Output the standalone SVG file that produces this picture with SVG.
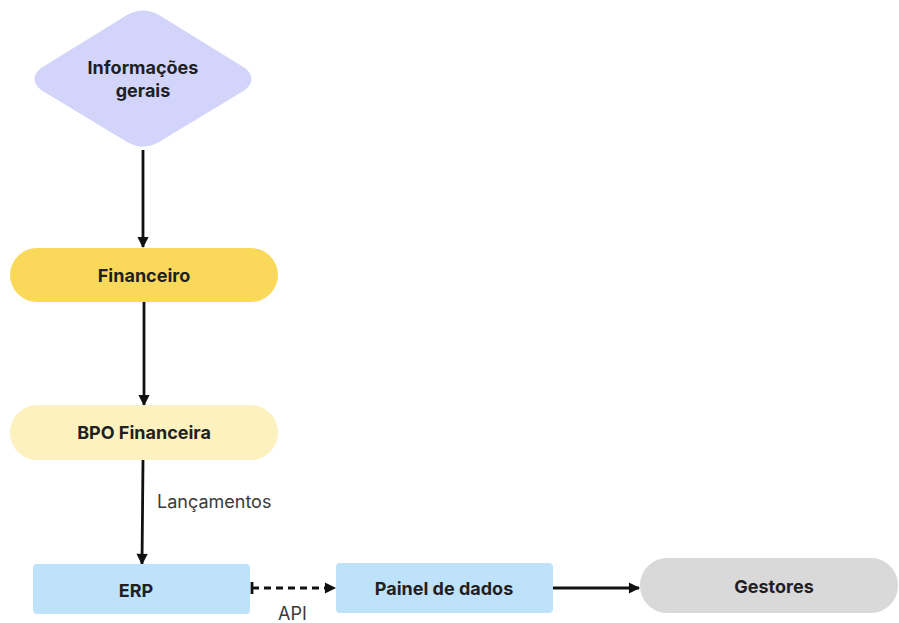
<svg xmlns="http://www.w3.org/2000/svg" width="899" height="623" viewBox="0 0 899 623">
<defs>
<marker id="arr" viewBox="0 0 10 10" refX="9" refY="5" markerWidth="4.4" markerHeight="4" orient="auto" markerUnits="strokeWidth">
<path d="M0,0 L10,5 L0,10 Z" fill="#111"/>
</marker>
</defs>
<style>
.lbl{font-family:Inter,"Liberation Sans",sans-serif;font-weight:700;font-size:18px;fill:#1f1f24;text-anchor:middle}
.edge{font-family:Inter,"Liberation Sans",sans-serif;font-weight:400;font-size:18px;fill:#3a3a3a}
.ln{stroke:#111;stroke-width:2.8;fill:none}
</style>
<rect width="899" height="623" fill="#ffffff"/>
<g id="connectors">
<line class="ln" x1="143" y1="150" x2="143" y2="247" marker-end="url(#arr)"/>
<line class="ln" x1="144" y1="302" x2="144" y2="405" marker-end="url(#arr)"/>
<line class="ln" x1="143" y1="460" x2="142" y2="564" marker-end="url(#arr)"/>
<text class="edge" x="157" y="508">Lançamentos</text>
<line class="ln" x1="252" y1="588" x2="335" y2="588" stroke-dasharray="7,5" marker-end="url(#arr)"/>
<line class="ln" x1="252" y1="582" x2="252" y2="594"/>
<text class="edge" x="278" y="620">API</text>
<line class="ln" x1="553" y1="588" x2="639" y2="588" marker-end="url(#arr)"/>
</g>
<g id="node-info">
<path d="M127,15 Q143,6 159,15 L245,68 Q258,79 245,90 L159,142 Q143,151 127,142 L41,90 Q28,79 41,68 Z" fill="#d2d5f9"/>
<text class="lbl" x="143" y="74">Informações</text>
<text class="lbl" x="143" y="97">gerais</text>
</g>
<g id="node-financeiro">
<rect x="10" y="248" width="268" height="54" rx="27" fill="#fad85a"/>
<text class="lbl" x="144" y="282">Financeiro</text>
</g>
<g id="node-bpo">
<rect x="10" y="405" width="268" height="55" rx="27" fill="#fdf1bf"/>
<text class="lbl" x="144" y="439">BPO Financeira</text>
</g>
<g id="node-erp">
<rect x="33" y="564" width="217" height="50" rx="4" fill="#bfe2fb"/>
<text class="lbl" x="136" y="597">ERP</text>
</g>
<g id="node-painel">
<rect x="336" y="563" width="217" height="50" rx="4" fill="#bfe2fb"/>
<text class="lbl" x="444" y="595">Painel de dados</text>
</g>
<g id="node-gestores">
<rect x="640" y="558" width="258" height="55" rx="27" fill="#d9d9d9"/>
<text class="lbl" x="774" y="593">Gestores</text>
</g>
</svg>
